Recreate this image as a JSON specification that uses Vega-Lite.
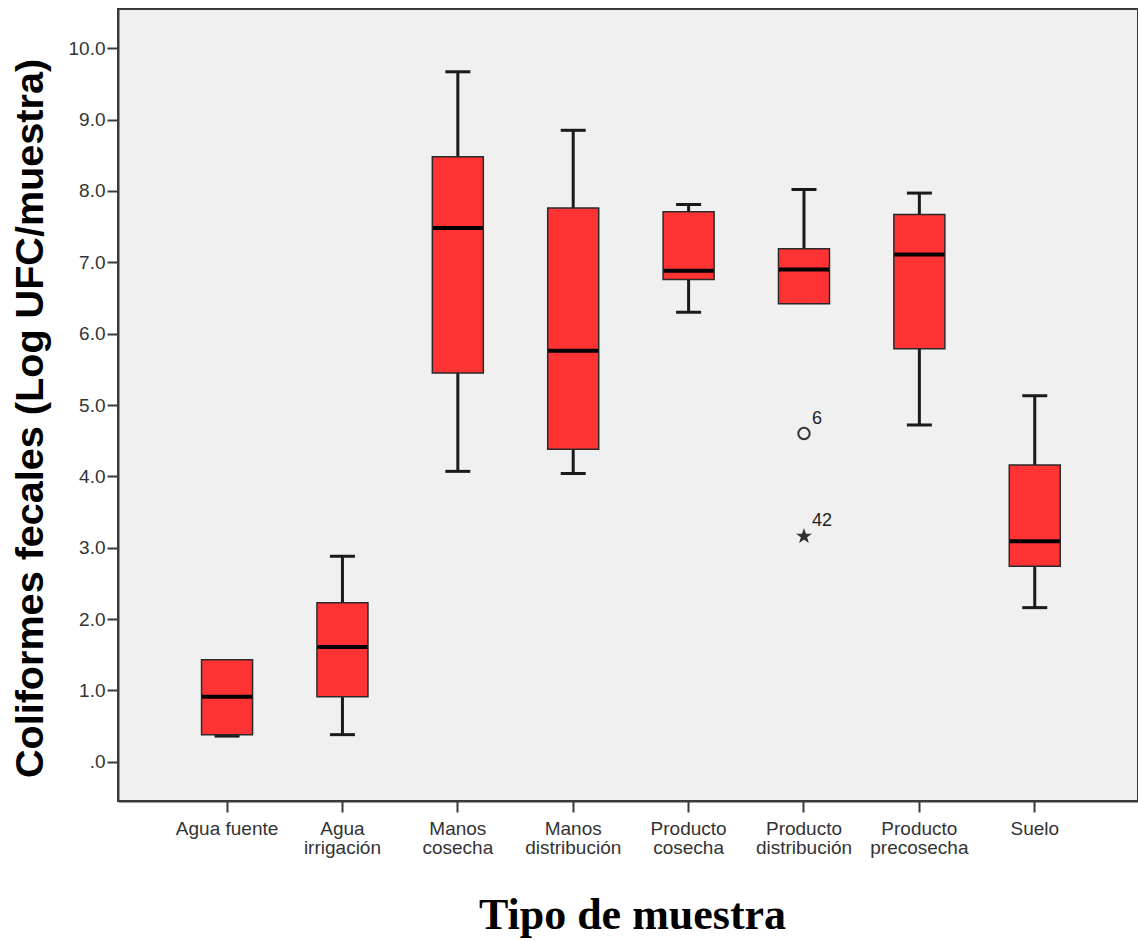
{
  "$schema": "https://vega.github.io/schema/vega-lite/v6.json",
  "width": 1020,
  "height": 792,
  "autosize": {"type": "none"},
  "padding": {"left": 118, "top": 9, "right": 0, "bottom": 140},
  "background": "#FFFFFF",
  "config": {
    "view": {"fill": "#F0F0F0", "stroke": "#3A3A3A", "strokeWidth": 2},
    "axis": {
      "grid": false,
      "domainColor": "#3A3A3A",
      "domainWidth": 2,
      "tickColor": "#3A3A3A",
      "tickWidth": 2,
      "tickSize": 11,
      "labelFont": "Liberation Sans",
      "labelFontSize": 19,
      "labelColor": "#333333"
    }
  },
  "datasets": {
    "cajas": [
      {"tipo": "Agua fuente", "min": 0.36, "q1": 0.38, "mediana": 0.91, "q3": 1.43, "max": 1.43},
      {"tipo": "Agua irrigación", "min": 0.38, "q1": 0.91, "mediana": 1.61, "q3": 2.23, "max": 2.88},
      {"tipo": "Manos cosecha", "min": 4.07, "q1": 5.45, "mediana": 7.48, "q3": 8.48, "max": 9.67},
      {"tipo": "Manos distribución", "min": 4.04, "q1": 4.38, "mediana": 5.76, "q3": 7.76, "max": 8.85},
      {"tipo": "Producto cosecha", "min": 6.30, "q1": 6.76, "mediana": 6.88, "q3": 7.71, "max": 7.81},
      {"tipo": "Producto distribución", "min": 6.42, "q1": 6.42, "mediana": 6.90, "q3": 7.19, "max": 8.02},
      {"tipo": "Producto precosecha", "min": 4.72, "q1": 5.79, "mediana": 7.11, "q3": 7.67, "max": 7.97},
      {"tipo": "Suelo", "min": 2.16, "q1": 2.74, "mediana": 3.09, "q3": 4.16, "max": 5.13}
    ],
    "atipicos": [
      {"tipo": "Producto distribución", "valor": 4.60, "caso": "6", "clase": "atípico"},
      {"tipo": "Producto distribución", "valor": 3.16, "caso": "42", "clase": "extremo"}
    ]
  },
  "encoding": {
    "x": {
      "field": "tipo",
      "type": "nominal",
      "sort": null,
      "scale": {"type": "band", "paddingInner": 0, "paddingOuter": 0.42, "align": 0.53},
      "axis": {
        "title": "Tipo de muestra",
        "titleFont": "Liberation Serif",
        "titleFontSize": 44,
        "titleFontWeight": "bold",
        "titleColor": "#000000",
        "titleX": 514,
        "titleY": 127,
        "titleBaseline": "alphabetic",
        "labelAngle": 0,
        "labelPadding": 7,
        "labelLineHeight": 19.5,
        "labelBaseline": "top",
        "labelExpr": "datum.label == 'Agua fuente' ? datum.label : split(datum.label, ' ')"
      }
    }
  },
  "layer": [
    {
      "data": {"name": "cajas"},
      "mark": {"type": "rule", "color": "#1A1A1A", "strokeWidth": 3, "opacity": 1},
      "encoding": {
        "y": {
          "field": "min",
          "type": "quantitative",
          "scale": {"domain": [-0.55, 10.55], "nice": false, "zero": false},
          "axis": {
            "title": "Coliformes fecales (Log UFC/muestra)",
            "titleFont": "Liberation Sans",
            "titleFontSize": 39.6,
            "titleFontWeight": "bold",
            "titleColor": "#000000",
            "titleX": -76,
            "titleY": 409,
            "titleBaseline": "alphabetic",
            "values": [0, 1, 2, 3, 4, 5, 6, 7, 8, 9, 10],
            "labelPadding": 2,
            "labelExpr": "datum.value == 0 ? '.0' : format(datum.value, '.1f')"
          }
        },
        "y2": {"field": "max"}
      }
    },
    {
      "data": {"name": "cajas"},
      "transform": [{"filter": "datum.min < datum.q1"}],
      "mark": {"type": "tick", "color": "#1A1A1A", "size": 25, "thickness": 3, "opacity": 1},
      "encoding": {"y": {"field": "min", "type": "quantitative"}}
    },
    {
      "data": {"name": "cajas"},
      "transform": [{"filter": "datum.max > datum.q3"}],
      "mark": {"type": "tick", "color": "#1A1A1A", "size": 25, "thickness": 3, "opacity": 1},
      "encoding": {"y": {"field": "max", "type": "quantitative"}}
    },
    {
      "data": {"name": "cajas"},
      "mark": {"type": "bar", "size": 51, "fill": "#FF3333", "stroke": "#2A2A2A", "strokeWidth": 1.5, "opacity": 1},
      "encoding": {
        "y": {"field": "q1", "type": "quantitative"},
        "y2": {"field": "q3"}
      }
    },
    {
      "data": {"name": "cajas"},
      "mark": {"type": "tick", "color": "#000000", "size": 50, "thickness": 4, "opacity": 1},
      "encoding": {"y": {"field": "mediana", "type": "quantitative"}}
    },
    {
      "data": {"name": "atipicos"},
      "mark": {"type": "point", "strokeWidth": 2, "opacity": 1},
      "encoding": {
        "y": {"field": "valor", "type": "quantitative"},
        "shape": {
          "field": "clase",
          "type": "nominal",
          "legend": null,
          "scale": {
            "domain": ["atípico", "extremo"],
            "range": ["circle", "M0,-1L0.235,-0.324L0.951,-0.309L0.38,0.124L0.588,0.809L0,0.4L-0.588,0.809L-0.38,0.124L-0.951,-0.309L-0.235,-0.324Z"]
          }
        },
        "size": {
          "field": "clase",
          "type": "nominal",
          "legend": null,
          "scale": {"domain": ["atípico", "extremo"], "range": [130, 110]}
        },
        "fill": {
          "field": "clase",
          "type": "nominal",
          "legend": null,
          "scale": {"domain": ["atípico", "extremo"], "range": ["transparent", "#333333"]}
        },
        "stroke": {
          "field": "clase",
          "type": "nominal",
          "legend": null,
          "scale": {"domain": ["atípico", "extremo"], "range": ["#333333", "#333333"]}
        }
      }
    },
    {
      "data": {"name": "atipicos"},
      "mark": {"type": "text", "align": "left", "baseline": "middle", "dx": 8, "dy": -15, "font": "Liberation Sans", "fontSize": 18, "color": "#222222"},
      "encoding": {
        "y": {"field": "valor", "type": "quantitative"},
        "text": {"field": "caso"}
      }
    }
  ]
}
